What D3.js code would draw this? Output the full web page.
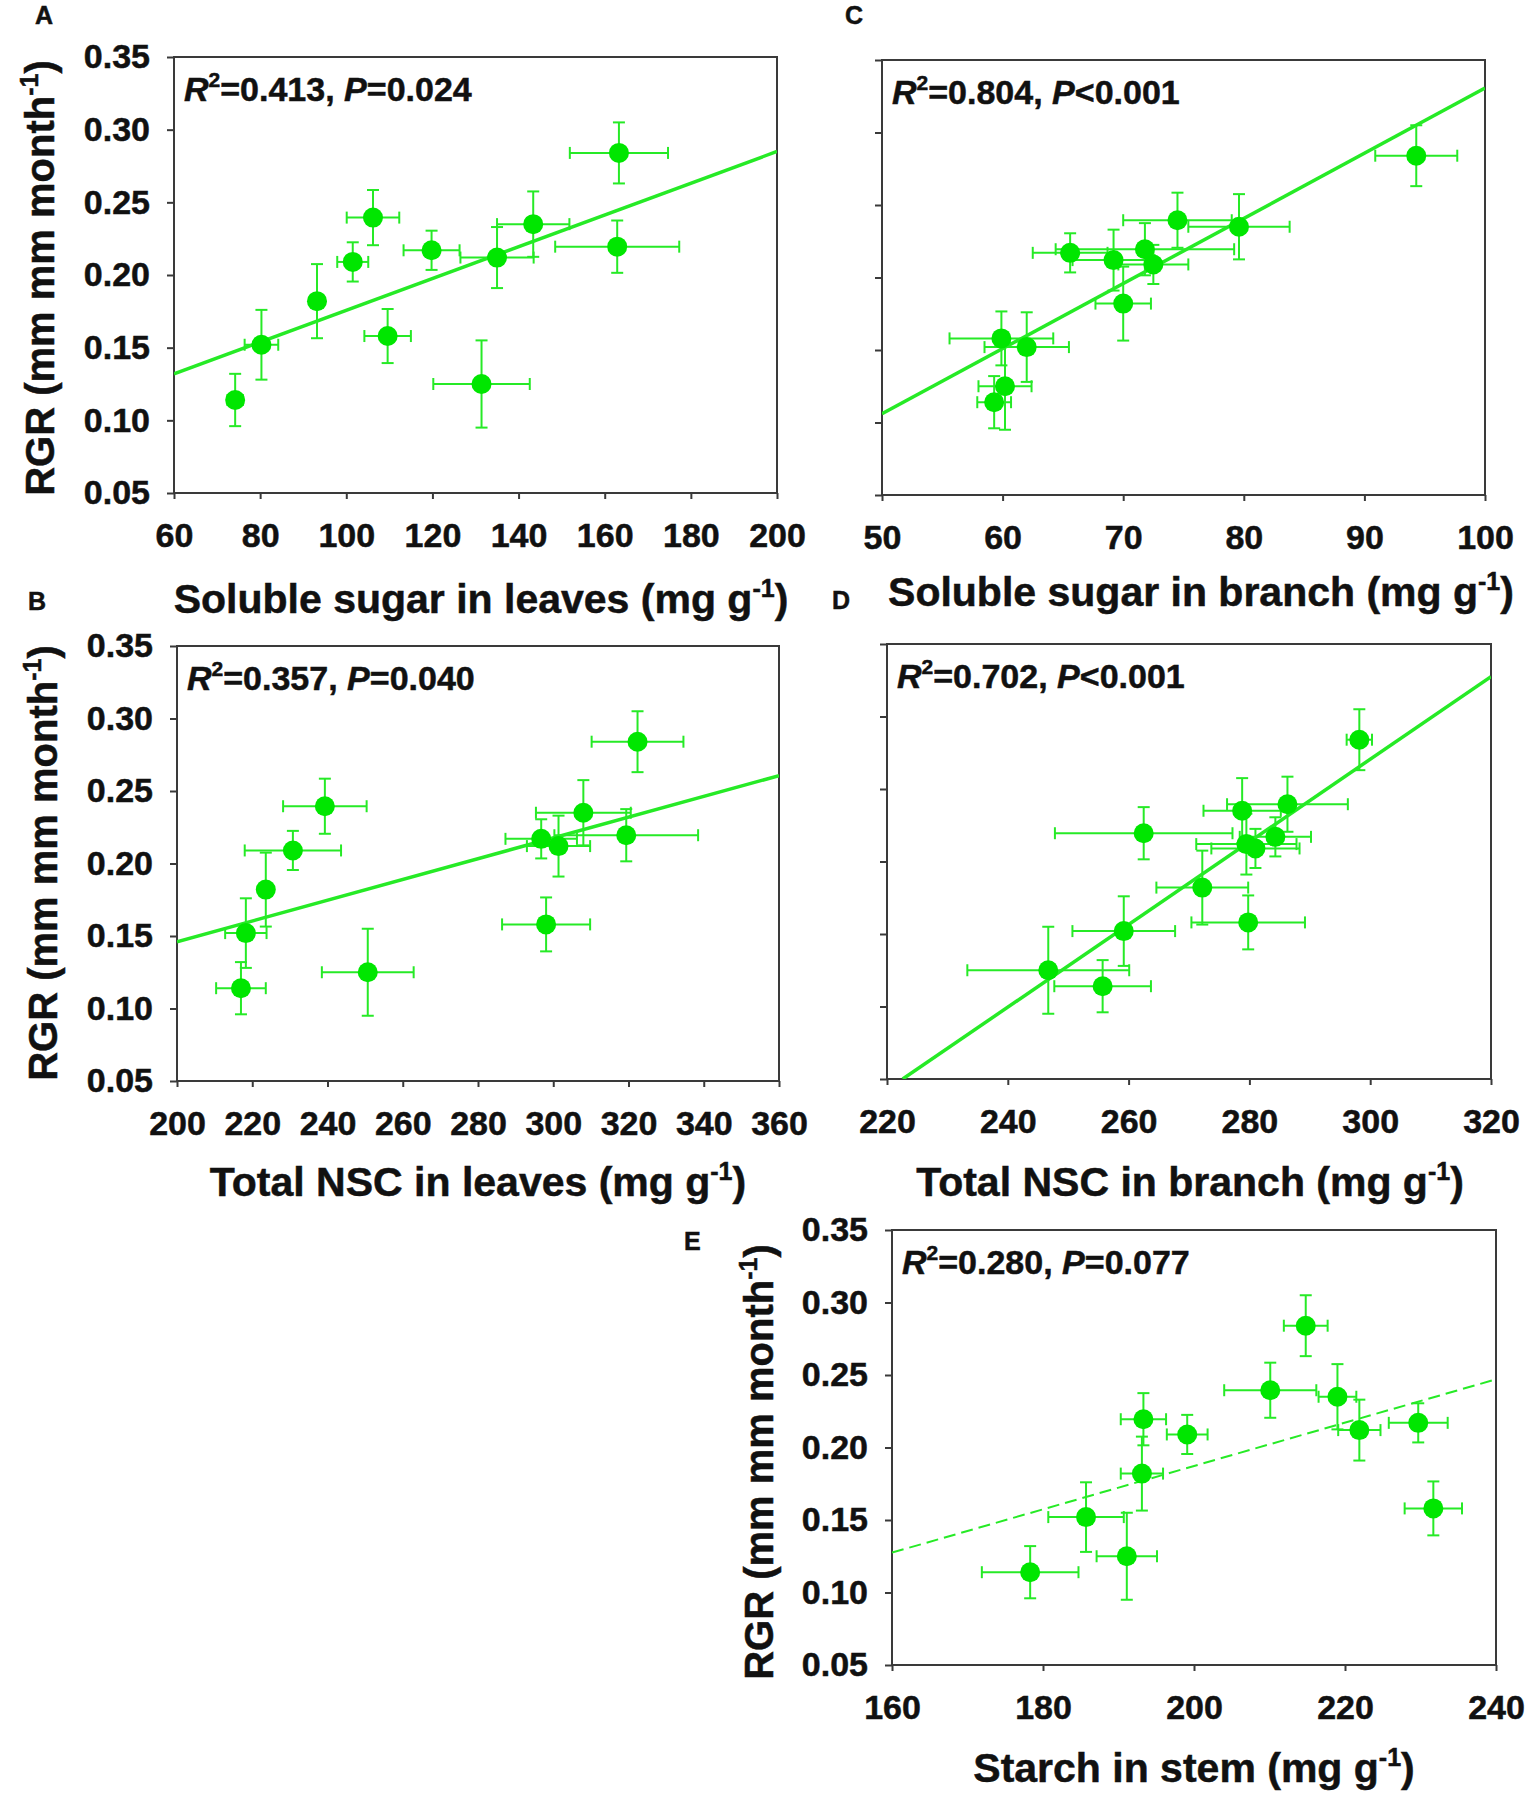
<!DOCTYPE html>
<html>
<head>
<meta charset="utf-8">
<script src="https://cdn.jsdelivr.net/npm/d3@7"></script>
<style>
  body { margin: 0; background: #fff; }
  svg { display: block; font-family: "Liberation Sans", Arial, sans-serif; font-weight: bold; }
  text { stroke: #111; stroke-width: 0.5px; }
</style>
</head>
<body>
<svg id="chart" width="1535" height="1804"></svg>
<script>
// ---- data ----
// RGR (mm mm month-1) of the 12 samples, shared by every panel
var rgr    = [0.114, 0.125, 0.152, 0.158, 0.182, 0.209, 0.212, 0.217, 0.2195, 0.235, 0.2395, 0.284];
var rgrErr = [0.018, 0.030, 0.024, 0.0186, 0.0255, 0.0135, 0.021, 0.0135, 0.018, 0.0225, 0.019, 0.021];

// A: soluble sugar in leaves
var sugarLeaf    = [74.2, 131.4, 80.3, 109.6, 93.2, 101.5, 135.0, 119.8, 162.9, 143.4, 106.2, 163.3];
var sugarLeafErr = [1.8, 11.2, 3.9, 5.4, 0.8, 3.6, 8.5, 6.5, 14.4, 8.4, 6.1, 11.4];
// B: total NSC in leaves
var nscLeaf    = [217.0, 250.7, 218.3, 298.1, 223.6, 230.8, 301.4, 296.8, 319.4, 308.0, 239.3, 322.4];
var nscLeafErr = [6.6, 12.2, 5.5, 11.7, 1.0, 12.8, 8.4, 9.5, 19.1, 12.6, 11.1, 12.2];
// C: soluble sugar in branch
var sugarBranch    = [59.3, 60.2, 62.0, 59.9, 70.0, 72.5, 69.2, 65.6, 71.8, 79.6, 74.5, 94.3];
var sugarBranchErr = [1.4, 2.2, 3.5, 4.3, 2.3, 2.9, 3.4, 3.1, 7.4, 4.2, 4.5, 3.4];
// D: total NSC in branch
var nscBranch    = [255.7, 246.7, 259.2, 279.8, 272.2, 281.0, 279.5, 284.3, 262.5, 278.8, 286.3, 298.2];
var nscBranchErr = [8.0, 13.4, 8.5, 9.4, 7.6, 7.3, 8.3, 5.9, 14.7, 6.4, 10.0, 2.1];
// E: starch in stem
var starchStem    = [178.3, 191.1, 185.7, 231.7, 193.1, 199.1, 221.9, 229.7, 193.3, 219.0, 210.1, 214.8];
var starchStemErr = [6.4, 4.0, 5.0, 3.8, 2.8, 2.7, 2.8, 3.9, 3.0, 2.5, 6.1, 2.9];

// fitted lines, [x0, y0, x1, y1]
var fitA = [60, 0.132, 200, 0.285];
var fitB = [200, 0.146, 360, 0.2606];
var fitC = [50, 0.106, 100, 0.3306];
var fitD = [222.6, 0.05, 320, 0.3275];
var fitE = [160, 0.1275, 240, 0.247];

// tick values
var yTicks  = [0.05, 0.10, 0.15, 0.20, 0.25, 0.30, 0.35];
var xTicksA = [60, 80, 100, 120, 140, 160, 180, 200];
var xTicksB = [200, 220, 240, 260, 280, 300, 320, 340, 360];
var xTicksC = [50, 60, 70, 80, 90, 100];
var xTicksD = [220, 240, 260, 280, 300, 320];
var xTicksE = [160, 180, 200, 220, 240];

// stats text [R2, P part]
var statsA = ["0.413", "=0.024"];
var statsB = ["0.357", "=0.040"];
var statsC = ["0.804", "<0.001"];
var statsD = ["0.702", "<0.001"];
var statsE = ["0.280", "=0.077"];

var xTitles = ["Soluble sugar in leaves", "Total NSC in leaves", "Soluble sugar in branch",
               "Total NSC in branch", "Starch in stem"];
var yTitle = "RGR (mm mm month";

// ---- look ----
var green = "#00e600";
var lineGreen = "#26ea26";
var axisColor = "#3a3a3a";

var svg = d3.select("#chart");
svg.append("rect").attr("width", 1535).attr("height", 1804).attr("fill", "#fff");

// panel layout (pixel boxes, title placement)
var panels = [
    { id: "A", x: sugarLeaf, xErr: sugarLeafErr, fit: fitA, ticks: xTicksA, stats: statsA, title: xTitles[0],
      box: [174, 57, 777, 493], letter: [35, 24], titleX: 481, titleY: 613, yTitle: [54, 278], dashed: false },
    { id: "B", x: nscLeaf, xErr: nscLeafErr, fit: fitB, ticks: xTicksB, stats: statsB, title: xTitles[1],
      box: [177, 646, 779, 1081], letter: [28, 610], titleX: 478, titleY: 1196, yTitle: [57, 863], dashed: false },
    { id: "C", x: sugarBranch, xErr: sugarBranchErr, fit: fitC, ticks: xTicksC, stats: statsC, title: xTitles[2],
      box: [882, 60, 1485, 495], letter: [845, 24], titleX: 1201, titleY: 606, yTitle: null, dashed: false },
    { id: "D", x: nscBranch, xErr: nscBranchErr, fit: fitD, ticks: xTicksD, stats: statsD, title: xTitles[3],
      box: [887, 644, 1491, 1079], letter: [832, 609], titleX: 1190, titleY: 1196, yTitle: null, dashed: false },
    { id: "E", x: starchStem, xErr: starchStemErr, fit: fitE, ticks: xTicksE, stats: statsE, title: xTitles[4],
      box: [892, 1230, 1496, 1665], letter: [684, 1250], titleX: 1194, titleY: 1782, yTitle: [773, 1462], dashed: true }
];

panels.forEach(drawPanel);

function drawPanel(p)
{
    var left = p.box[0], top = p.box[1], right = p.box[2], bottom = p.box[3];
    var g = svg.append("g");

    var x = d3.scaleLinear().domain([p.ticks[0], p.ticks[p.ticks.length - 1]]).range([left, right]);
    var y = d3.scaleLinear().domain([0.05, 0.35]).range([bottom, top]);

    // axes
    var xAxis = d3.axisBottom(x).tickValues(p.ticks).tickSize(6).tickSizeOuter(0).tickPadding(24)
        .tickFormat(d3.format("d"));
    var yAxis = d3.axisLeft(y).tickValues(yTicks).tickSize(7).tickSizeOuter(0).tickPadding(17)
        .tickFormat(p.yTitle ? d3.format(".2f") : "");

    var gx = g.append("g").attr("transform", "translate(0," + bottom + ")").call(xAxis);
    var gy = g.append("g").attr("transform", "translate(" + left + ",0)").call(yAxis);
    [gx, gy].forEach(function (a) {
        a.select(".domain").remove();
        a.selectAll(".tick line").attr("stroke", axisColor).attr("stroke-width", 2);
        a.selectAll(".tick text").attr("fill", "#111").style("font-size", "34px")
            .style("font-family", "'Liberation Sans', Arial, sans-serif").style("font-weight", "bold");
    });

    // frame
    g.append("rect")
        .attr("x", left).attr("y", top)
        .attr("width", right - left).attr("height", bottom - top)
        .attr("fill", "none").attr("stroke", axisColor).attr("stroke-width", 2);

    // clip for the fitted line
    var clipId = "clip" + p.id;
    svg.append("clipPath").attr("id", clipId).append("rect")
        .attr("x", left).attr("y", top).attr("width", right - left).attr("height", bottom - top);

    var pts = p.x.map(function (v, i) {
        return { x: v, xe: p.xErr[i], y: rgr[i], ye: rgrErr[i] };
    });

    var cap = 6;
    var eb = g.append("g").attr("stroke", lineGreen).attr("stroke-width", 2);
    pts.forEach(function (d) {
        var cx = x(d.x), cy = y(d.y);
        var x0 = x(d.x - d.xe), x1 = x(d.x + d.xe);
        var y0 = y(d.y - d.ye), y1 = y(d.y + d.ye);
        // horizontal bar + caps
        eb.append("line").attr("x1", x0).attr("x2", x1).attr("y1", cy).attr("y2", cy);
        eb.append("line").attr("x1", x0).attr("x2", x0).attr("y1", cy - cap).attr("y2", cy + cap);
        eb.append("line").attr("x1", x1).attr("x2", x1).attr("y1", cy - cap).attr("y2", cy + cap);
        // vertical bar + caps
        eb.append("line").attr("x1", cx).attr("x2", cx).attr("y1", y0).attr("y2", y1);
        eb.append("line").attr("x1", cx - cap).attr("x2", cx + cap).attr("y1", y0).attr("y2", y0);
        eb.append("line").attr("x1", cx - cap).attr("x2", cx + cap).attr("y1", y1).attr("y2", y1);
    });

    // fitted line
    g.append("line")
        .attr("clip-path", "url(#" + clipId + ")")
        .attr("x1", x(p.fit[0])).attr("y1", y(p.fit[1]))
        .attr("x2", x(p.fit[2])).attr("y2", y(p.fit[3]))
        .attr("stroke", lineGreen)
        .attr("stroke-width", p.dashed ? 2 : 3.5)
        .attr("stroke-dasharray", p.dashed ? "12,6" : null);

    // markers
    g.selectAll("circle.pt").data(pts).enter().append("circle")
        .attr("class", "pt")
        .attr("cx", function (d) { return x(d.x); })
        .attr("cy", function (d) { return y(d.y); })
        .attr("r", 10)
        .attr("fill", green);

    // stats
    var st = g.append("text").attr("x", left + 10).attr("y", top + 44)
        .style("font-size", "34px").attr("fill", "#111");
    st.append("tspan").style("font-style", "italic").text("R");
    st.append("tspan").attr("dy", -14).style("font-size", "21px").text("2");
    st.append("tspan").attr("dy", 14).text("=" + p.stats[0] + ", ");
    st.append("tspan").style("font-style", "italic").text("P");
    st.append("tspan").text(p.stats[1]);

    // x title
    var xt = g.append("text").attr("x", p.titleX).attr("y", p.titleY)
        .attr("text-anchor", "middle").style("font-size", "41px").attr("fill", "#111");
    addUnit(xt, p.title + " (mg g");

    // y title
    if (p.yTitle) {
        var yt = g.append("text")
            .attr("transform", "translate(" + p.yTitle[0] + "," + p.yTitle[1] + ") rotate(-90)")
            .attr("text-anchor", "middle").style("font-size", "40px").attr("fill", "#111");
        addUnit(yt, yTitle);
    }

    // panel letter
    g.append("text").attr("x", p.letter[0]).attr("y", p.letter[1])
        .style("font-size", "25px").attr("fill", "#111").text(p.id);
}

// "...(unit" + superscript -1 + ")"
function addUnit(t, main)
{
    t.append("tspan").text(main);
    t.append("tspan").attr("dy", -16).style("font-size", "25px").text("-1");
    t.append("tspan").attr("dy", 16).text(")");
}
</script>
</body>
</html>
